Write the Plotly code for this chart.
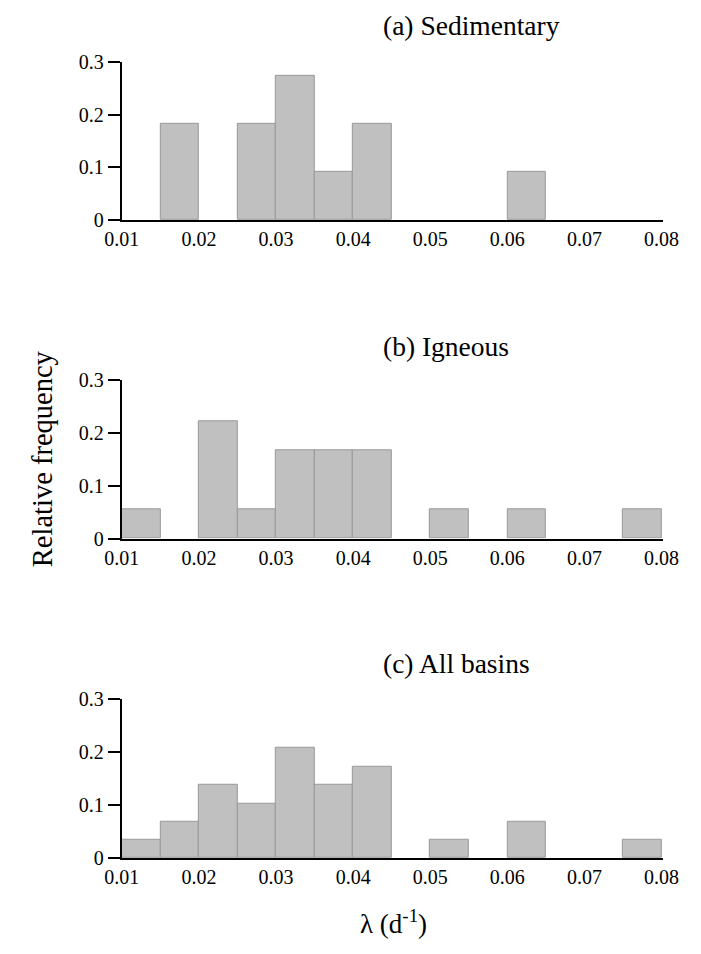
import plotly.graph_objects as go

# bin left edges (lambda, d^-1), bin width 0.005
bin_width = 0.005
bin_left = [0.010, 0.015, 0.020, 0.025, 0.030, 0.035, 0.040, 0.045,
            0.050, 0.055, 0.060, 0.065, 0.070, 0.075]

# relative frequencies per bin
sedimentary = [0, 0.182, 0, 0.182, 0.273, 0.091, 0.182, 0, 0, 0, 0.091, 0, 0, 0]
igneous = [0.056, 0, 0.222, 0.056, 0.167, 0.167, 0.167, 0, 0.056, 0, 0.056, 0, 0, 0.056]
all_basins = [0.034, 0.069, 0.138, 0.103, 0.207, 0.138, 0.172, 0, 0.034, 0, 0.069, 0, 0, 0.034]

panel_titles = ["(a) Sedimentary", "(b) Igneous", "(c) All basins"]
x_ticks = [0.01, 0.02, 0.03, 0.04, 0.05, 0.06, 0.07, 0.08]
x_ticktext = ["0.01", "0.02", "0.03", "0.04", "0.05", "0.06", "0.07", "0.08"]
y_ticks = [0, 0.1, 0.2, 0.3]
y_ticktext = ["0", "0.1", "0.2", "0.3"]

W, H = 701, 954
FONT = "Liberation Serif, Times New Roman, serif"

def py(pix):
    return 1 - pix / H

# pixel positions (top, bottom) of each panel's plot area
panels_px = [(52, 214), (378, 540), (704, 867)]
title_px = [15, 343, 668]
x_dom = [110 / W, 678 / W]

fig = go.Figure()
series = [sedimentary, igneous, all_basins]

for i, vals in enumerate(series):
    n = "" if i == 0 else str(i + 1)
    xs = [b + bin_width / 2 for b, v in zip(bin_left, vals) if v > 0]
    ys = [v for v in vals if v > 0]
    fig.add_trace(go.Bar(
        x=xs, y=ys, width=bin_width,
        marker=dict(color="#c0c0c0", line=dict(color="#999999", width=1)),
        xaxis="x" + n, yaxis="y" + n, showlegend=False, hoverinfo="skip",
    ))
    top, bot = panels_px[i]
    fig.update_layout(**{
        "xaxis" + n: dict(
            domain=x_dom, range=[0.01, 0.0802], anchor="y" + n,
            tickvals=x_ticks, ticktext=x_ticktext, ticks="",
            showgrid=False, zeroline=False, showline=True,
            linecolor="black", linewidth=2,
            tickfont=dict(family=FONT, size=20, color="black"),
        ),
        "yaxis" + n: dict(
            domain=[py(bot), py(top)], range=[0, 0.3], anchor="x" + n,
            tickvals=y_ticks, ticktext=y_ticktext, ticks="outside",
            ticklen=12, tickwidth=2, tickcolor="black",
            showgrid=False, zeroline=False, showline=True,
            linecolor="black", linewidth=2,
            tickfont=dict(family=FONT, size=20, color="black"),
        ),
    })
    fig.add_annotation(
        text=panel_titles[i], xref="paper", yref="paper",
        x=382 / W, y=py(title_px[i]), xanchor="left", yanchor="middle",
        showarrow=False, font=dict(family=FONT, size=27.5, color="black"),
    )

fig.add_annotation(
    text="Relative frequency", xref="paper", yref="paper",
    x=27 / W, y=py(458), xanchor="center", yanchor="middle", textangle=-90,
    showarrow=False, font=dict(family=FONT, size=28.5, color="black"),
)
fig.add_annotation(
    text="λ (d<sup>-1</sup>)", xref="paper", yref="paper",
    x=395 / W, y=py(932), xanchor="center", yanchor="middle",
    showarrow=False, font=dict(family=FONT, size=27, color="black"),
)

fig.update_layout(
    width=W, height=H, margin=dict(l=0, r=0, t=0, b=0),
    font=dict(family=FONT, color="black"),
    plot_bgcolor="white", paper_bgcolor="white", bargap=0,
)

fig.write_html("out.html")
